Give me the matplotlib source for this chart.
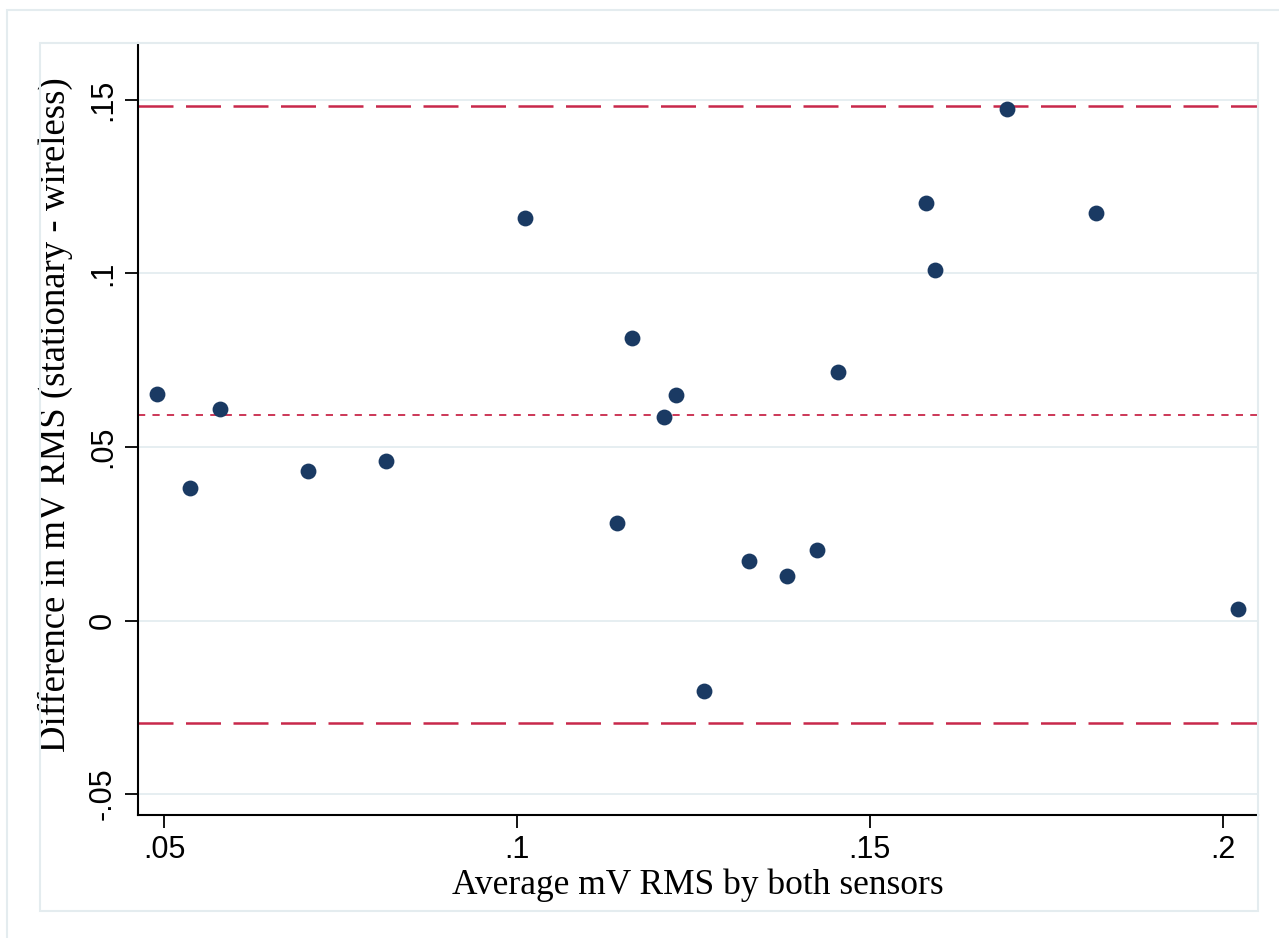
import matplotlib.pyplot as plt
from matplotlib.patches import Rectangle

# Bland-Altman: average of the two sensors vs difference (stationary - wireless)
avg_rms = [0.0490, 0.0537, 0.0579, 0.0704, 0.0814, 0.1011, 0.1142, 0.1163, 0.1208, 0.1225,
           0.1265, 0.1329, 0.1382, 0.1425, 0.1455, 0.1580, 0.1593, 0.1695, 0.1820, 0.2021]
diff_rms = [0.0652, 0.0383, 0.0610, 0.0431, 0.0459, 0.1159, 0.0281, 0.0814, 0.0587, 0.0650,
            -0.0203, 0.0172, 0.0129, 0.0204, 0.0716, 0.1202, 0.1010, 0.1474, 0.1175, 0.0033]

mean_diff = 0.0592
upper_loa = 0.1482
lower_loa = -0.0294

x_ticks = [0.05, 0.1, 0.15, 0.2]
x_labels = ['.05', '.1', '.15', '.2']
y_ticks = [-0.05, 0, 0.05, 0.1, 0.15]
y_labels = ['-.05', '0', '.05', '.1', '.15']

W, H = 1279, 938
fig = plt.figure(figsize=(W / 100, H / 100), dpi=100)

# light frames like Stata's graph region
fig.patches.append(Rectangle((7 / W, -0.1), 1.1, (H - 10) / H + 0.1, transform=fig.transFigure,
                             fill=False, edgecolor='#e4ecef', linewidth=1.5))
fig.patches.append(Rectangle((40 / W, (H - 911) / H), 1218 / W, 868 / H, transform=fig.transFigure,
                             fill=False, edgecolor='#e4ecef', linewidth=1.5))

ax = fig.add_axes([138 / W, (H - 815) / H, (1258 - 138) / W, (815 - 43) / H])

for y in y_ticks:
    ax.axhline(y, color='#e6eef1', linewidth=1.4, zorder=0)

ax.axhline(upper_loa, color='#c8284a', linewidth=1.8, dashes=(14, 5), zorder=1)
ax.axhline(lower_loa, color='#c8284a', linewidth=1.8, dashes=(14, 5), zorder=1)
ax.axhline(mean_diff, color='#c8284a', linewidth=1.3, dashes=(4, 4), zorder=1)

ax.scatter(avg_rms, diff_rms, s=130, color='#1a3a63', zorder=3, linewidths=0)

ax.set_xlim(0.0463, 0.205)
ax.set_ylim(-0.056, 0.1664)

ax.set_xticks(x_ticks)
ax.set_xticklabels(x_labels, fontsize=22, family='Liberation Sans')
ax.set_yticks(y_ticks)
ax.set_yticklabels(y_labels, fontsize=22, family='Liberation Sans', rotation=90, va='center')
ax.tick_params(direction='out', length=9.5, width=1.3, pad=5)

for side in ['top', 'right']:
    ax.spines[side].set_visible(False)
for side in ['left', 'bottom']:
    ax.spines[side].set_linewidth(1.5)

ax.set_xlabel('Average mV RMS by both sensors', fontsize=25.5, family='Liberation Serif', va='center')
ax.set_ylabel('Difference in mV RMS (stationary - wireless)', fontsize=26.5, family='Liberation Serif',
              va='center')
ax.xaxis.set_label_coords(0.5, (815 - 885) / 772)
ax.yaxis.set_label_coords((55 - 138) / 1120, (815 - 415) / 772)

fig.savefig('out.png', dpi=100)
